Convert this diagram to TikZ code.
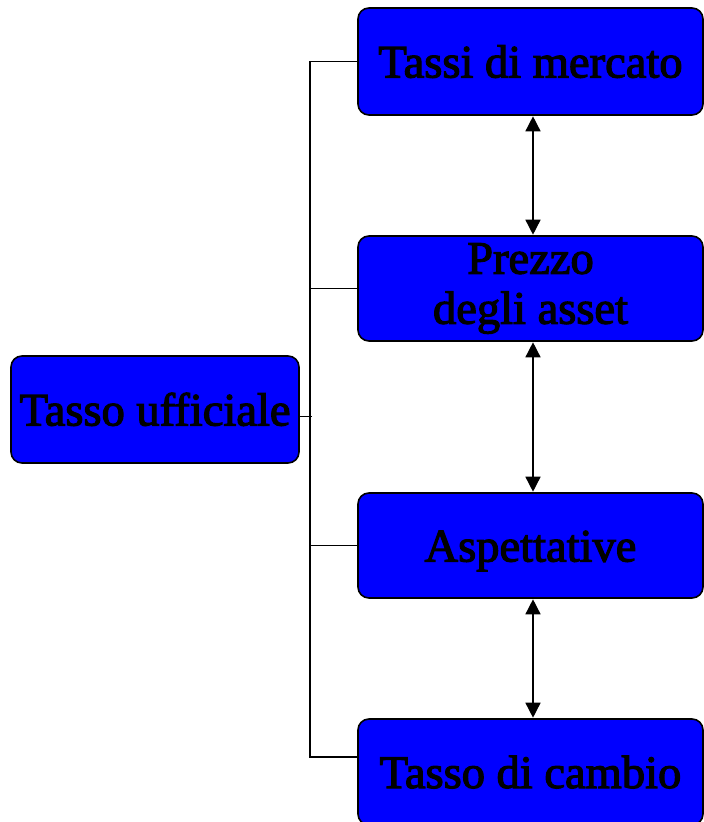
\documentclass[tikz,border=0pt]{standalone}
\usepackage{fontspec}
\setmainfont{Liberation Serif}
\newfontfamily\boxfont[FakeBold=2.5]{Liberation Serif}
\usetikzlibrary{arrows.meta}
\tikzset{
  box/.style={draw=black, line width=1.6pt, fill={rgb,255:red,0;green,0;blue,255}, rounded corners=11pt,
    inner sep=0pt, align=center, font=\boxfont\fontsize{46.5}{50}\selectfont, text=black},
  oneline/.style={text height=36pt, text depth=4pt},
  conn/.style={draw=black, line width=1.5pt},
  dbl/.style={conn, {Triangle[length=15pt,width=15pt]}-{Triangle[length=15pt,width=15pt]}, shorten <=0.5pt, shorten >=0.5pt}
}
\begin{document}
\begin{tikzpicture}[x=1pt,y=-1pt]
\useasboundingbox (0,0) rectangle (704,822);
\clip (0,0) rectangle (704,822);
\node[box, oneline, minimum width=345pt, minimum height=107pt] (b1) at (530.5,61.5) {Tassi di mercato};
\node[box, minimum width=345pt, minimum height=105pt] (b2) at (530.5,288.5) {Prezzo\\ degli asset};
\node[box, oneline, minimum width=345pt, minimum height=105pt] (b3) at (530.5,545.5) {Aspettative};
\node[box, oneline, minimum width=345pt, minimum height=106pt] (b4) at (530.5,772) {Tasso di cambio};
\node[box, oneline, minimum width=288pt, minimum height=107pt] (b0) at (155,409.5) {Tasso ufficiale};
% bus
\draw[conn] (b1.west) -- ++(-47,0) coordinate (bt) |- ([yshift=15pt]b4.west);
\draw[conn] (b2.west) -- (b2.west -| bt);
\draw[conn] (b3.west) -- (b3.west -| bt);
\draw[conn] ([yshift=-7pt]b0.east) -- ([yshift=-7pt]b0.east -| bt) -- ++(2,0);
% arrows
\draw[dbl] ([xshift=2.5pt]b1.south) -- ([xshift=2.5pt]b2.north);
\draw[dbl] ([xshift=2.5pt]b2.south) -- ([xshift=2.5pt]b3.north);
\draw[dbl] ([xshift=2.5pt]b3.south) -- ([xshift=2.5pt]b4.north);
\end{tikzpicture}
\end{document}
